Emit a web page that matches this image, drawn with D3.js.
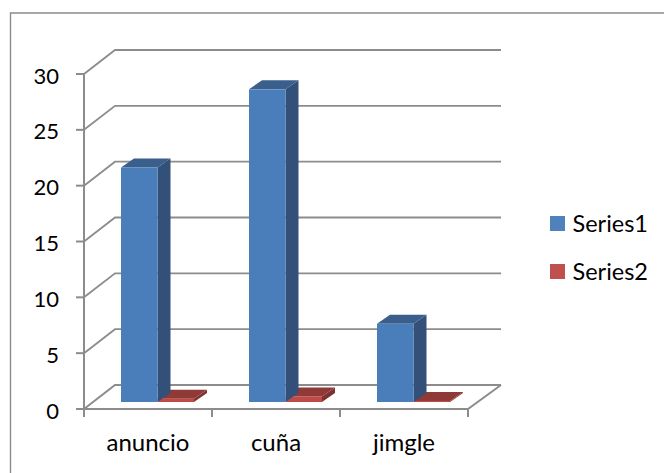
<!DOCTYPE html>
<html>
<head>
<meta charset="utf-8">
<script src="https://cdn.jsdelivr.net/npm/d3@7"></script>
<style>
html,body{margin:0;padding:0;background:#fff}
svg{display:block}
text{font-family:Lato,"Open Sans",sans-serif;fill:#000}
</style>
</head>
<body>
<svg id="chart" width="664" height="473"></svg>
<script>
const categories = ["anuncio", "cuña", "jimgle"];
const seriesNames = ["Series1", "Series2"];
const series1 = [21, 28, 7];
const series2 = [0.3, 0.5, 0.1];
const yTicks = [0, 5, 10, 15, 20, 25, 30];

const colors = {
  Series1: {front: "#4a7ebb", side: "#325078", top: "#3a5f8c", legend: "#4f81bd"},
  Series2: {front: "#be4b48", side: "#7e3230", top: "#8f3a37", legend: "#c0504d"}
};
const gridColor = "#8c8c8c";

const svg = d3.select("#chart");

// Oblique projection: floor depth and the depth at which the bars stand
const wallDx = 31, wallDy = -24;
const barInset = {dx: 0, dy: -7};
const barDepth = {dx: 13, dy: -9};

const x = d3.scaleBand().domain(categories).range([84, 468]);
const y = d3.scaleLinear().domain([0, 30]).range([409, 74]);
const barPos = d3.scaleBand().domain(seriesNames).range([37, 110]);

// Frame: only the top and left edges fall inside the page
svg.append("path").attr("fill", "none").attr("stroke", gridColor).attr("stroke-width", 1.4)
  .attr("d", d3.line()([[10.5, 473], [10.5, 13], [664, 13]]));

// Walls: gridlines running back from the value axis and across the rear wall
const grid = svg.append("g").attr("fill", "none").attr("stroke", gridColor).attr("stroke-width", 2);
yTicks.forEach(t => {
  grid.append("path").attr("stroke-width", t === 0 ? 2 : 1.8)
    .attr("d", d3.line()([
      [x.range()[0], y(t)],
      [x.range()[0] + wallDx, y(t) + wallDy],
      [x.range()[1] + wallDx + 2, y(t) + wallDy]
    ]));
  grid.append("line").attr("x1", x.range()[0] - 8).attr("x2", x.range()[0])
    .attr("y1", y(t)).attr("y2", y(t));
});

// Floor edge on the right side
grid.append("line")
  .attr("x1", x.range()[1]).attr("y1", y(0))
  .attr("x2", x.range()[1] + wallDx + 2).attr("y2", y(0) + wallDy);

// Value axis and category axis with their tick marks
grid.append("line").attr("x1", x.range()[0]).attr("x2", x.range()[0])
  .attr("y1", y(30)).attr("y2", y(0) + 8);
grid.append("line").attr("x1", x.range()[0]).attr("x2", x.range()[1])
  .attr("y1", y(0)).attr("y2", y(0));
categories.forEach(c => {
  grid.append("line").attr("x1", x(c) + x.bandwidth()).attr("x2", x(c) + x.bandwidth())
    .attr("y1", y(0)).attr("y2", y(0) + 8);
});

// Extruded bars: top and side faces first, then the front face
const baseY = v => y(v) + barInset.dy;
function drawBar(cat, name, value) {
  const c = colors[name];
  const x0 = x(cat) + barPos(name) + barInset.dx;
  const x1 = x0 + barPos.bandwidth();
  const yt = baseY(value), yb = baseY(0);
  const g = svg.append("g").attr("class", "bar");
  const poly = d3.line();
  g.append("path").attr("fill", c.side).attr("d", poly([
    [x1, yt], [x1 + barDepth.dx, yt + barDepth.dy], [x1 + barDepth.dx, yb + barDepth.dy], [x1, yb]
  ]) + "Z");
  g.append("path").attr("fill", c.top).attr("d", poly([
    [x0, yt], [x0 + barDepth.dx, yt + barDepth.dy], [x1 + barDepth.dx, yt + barDepth.dy], [x1, yt]
  ]) + "Z");
  g.append("rect").attr("x", x0).attr("y", yt).attr("width", x1 - x0).attr("height", yb - yt)
    .attr("fill", c.front);
}
categories.forEach((cat, i) => {
  drawBar(cat, "Series2", series2[i]);
  drawBar(cat, "Series1", series1[i]);
});

// Value labels
svg.append("g").selectAll("text").data(yTicks).join("text")
  .attr("x", 59).attr("y", d => y(d) + 9.5).attr("text-anchor", "end")
  .attr("font-size", 22).text(d => d);

// Category labels
svg.append("g").selectAll("text").data(categories).join("text")
  .attr("x", d => x(d) + x.bandwidth() / 2).attr("y", 451).attr("text-anchor", "middle")
  .attr("font-size", 24).text(d => d);

// Legend
const legend = svg.append("g").selectAll("g").data(seriesNames).join("g")
  .attr("transform", (d, i) => `translate(550,${216 + i * 48})`);
legend.append("rect").attr("width", 15).attr("height", 15).attr("fill", d => colors[d].legend);
legend.append("text").attr("x", 22.5).attr("y", 15.5).attr("font-size", 23.5).text(d => d);
</script>
</body>
</html>
